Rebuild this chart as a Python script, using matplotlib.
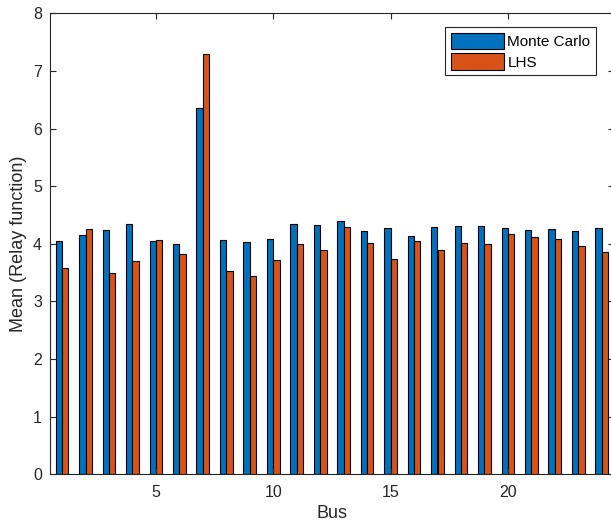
import numpy as np
import matplotlib
matplotlib.use('Agg')
import matplotlib.pyplot as plt

# mean of relay function per bus
bus = list(range(1, 25))
monte_carlo = [4.05, 4.15, 4.24, 4.34, 4.05, 4.00, 6.35, 4.06, 4.03, 4.09, 4.34, 4.32,
               4.39, 4.22, 4.28, 4.13, 4.29, 4.31, 4.31, 4.27, 4.24, 4.26, 4.22, 4.27]
lhs = [3.58, 4.26, 3.50, 3.70, 4.06, 3.82, 7.30, 3.53, 3.44, 3.72, 4.00, 3.89,
       4.29, 4.02, 3.73, 4.04, 3.89, 4.02, 3.99, 4.17, 4.12, 4.09, 3.96, 3.86]

plt.rcParams['font.family'] = ['Liberation Sans', 'DejaVu Sans']
axcol = '#262626'

W, H = 611, 531
fig = plt.figure(figsize=(W / 100, H / 100), dpi=100)
# axes box in pixels: left 50.3, right 613.5, top 13.3, bottom 474.3
ax = fig.add_axes([50.3 / W, 1 - 474.3 / H, (613.5 - 50.3) / W, (474.3 - 13.3) / H])

x = np.array(bus)
w = 0.27
ax.bar(x - 0.135, monte_carlo, width=w, color='#0072BD', edgecolor='black', linewidth=0.8, label='Monte Carlo')
ax.bar(x + 0.135, lhs, width=w, color='#D95319', edgecolor='black', linewidth=0.8, label='LHS')

ax.set_xlim(0.5, 24.5)
ax.set_ylim(0, 8)
ax.set_xticks([5, 10, 15, 20])
ax.set_yticks(range(0, 9))
ax.tick_params(direction='in', top=True, right=True, length=4.2, width=0.8,
               colors=axcol, labelsize=11.5, labelcolor=axcol)
ax.tick_params(axis='x', pad=8)
ax.tick_params(axis='y', pad=6)
for s in ax.spines.values():
    s.set_color(axcol)
    s.set_linewidth(0.8)

ax.set_xlabel('Bus', fontsize=13, color=axcol, labelpad=3)
ax.set_ylabel('Mean (Relay function)', fontsize=13, color=axcol, labelpad=4)

leg = ax.legend(loc='upper right', fontsize=11, handlelength=3.45, handleheight=1.3,
                handletextpad=0.25, borderpad=0.35, labelspacing=0.25, borderaxespad=0,
                fancybox=False, framealpha=1, edgecolor='#262626',
                bbox_to_anchor=(595.7 / W, 1 - 27.3 / H), bbox_transform=fig.transFigure)
leg.get_frame().set_linewidth(0.8)

fig.savefig('out.png', dpi=100)
